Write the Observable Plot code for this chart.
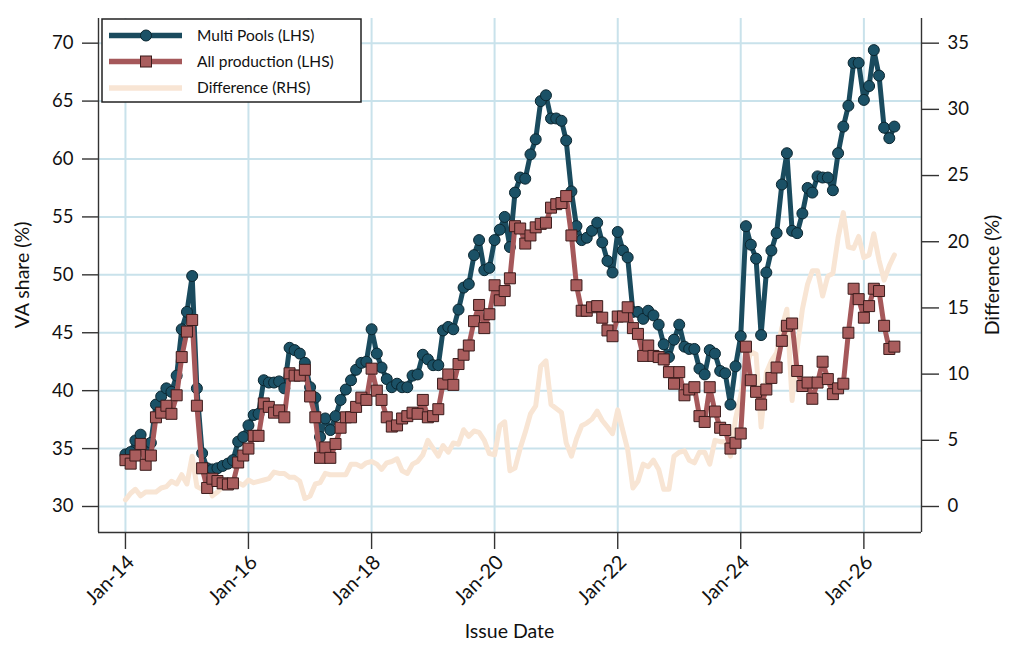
<!DOCTYPE html>
<html><head><meta charset="utf-8">
<script src="https://cdn.jsdelivr.net/npm/d3@7"></script>
<script src="https://cdn.jsdelivr.net/npm/@observablehq/plot@0.6"></script>
<style>
body{margin:0;background:#fff;font-family:Lato,"Open Sans",sans-serif;}
#wrap{position:relative;width:1024px;height:662px;overflow:hidden;}
.lab{position:absolute;font-size:19.5px;color:#111;white-space:nowrap;line-height:1;}
</style></head><body><div id="wrap"></div>
<script>
// ---- data (monthly issue dates from Jan-2014) ----
const startYear = 2014;
const multiPools = [
34.5,34.7,35.7,36.2,34.7,35.5,38.8,39.5,40.2,39.9,41.3,45.3,46.8,49.9,40.2,34.6,33.3,33.2,33.3,33.5,33.7,34.0,35.6,36.0,
37.0,37.9,38.0,40.9,40.7,40.7,40.8,40.2,43.7,43.5,43.2,42.4,40.3,39.4,36.0,37.6,36.6,37.8,39.2,40.1,40.9,41.8,42.4,42.5,
45.3,43.2,42.0,41.0,40.3,40.6,40.3,40.3,41.3,41.4,43.1,42.7,42.2,42.2,45.2,45.5,45.3,47.0,48.9,49.2,51.7,53.0,50.4,50.6,
53.0,53.9,55.0,52.4,57.1,58.4,58.3,60.4,61.7,65.0,65.5,63.5,63.5,63.3,61.6,57.2,54.2,53.0,53.2,53.8,54.5,52.8,51.2,50.2,
53.7,52.1,51.5,46.8,46.8,46.2,46.9,46.5,45.7,44.0,42.9,44.4,45.7,43.8,43.6,43.6,41.9,41.4,43.5,43.2,41.7,41.5,38.8,42.1,
44.7,54.2,52.6,51.4,44.8,50.2,52.1,53.6,57.8,60.5,53.8,53.6,55.3,57.5,57.1,58.5,58.4,58.4,57.3,60.5,62.8,64.6,68.3,68.3,
65.1,66.3,69.4,67.2,62.7,61.8,62.8
];
const allProduction = [
34.0,33.7,34.4,35.4,33.6,34.4,37.7,38.1,38.7,38.0,39.6,42.9,45.1,46.1,38.7,33.3,31.6,32.4,32.2,32.0,31.9,32.0,33.8,34.4,
35.0,36.1,36.1,38.9,38.6,38.1,38.3,37.7,41.5,41.3,41.3,41.8,39.5,37.7,34.2,35.1,34.2,35.4,36.8,37.7,37.7,38.6,39.4,39.2,
41.9,40.0,39.2,37.7,36.9,37.0,37.6,37.8,38.1,38.0,39.2,37.7,37.8,38.4,40.6,41.4,40.5,42.3,43.1,43.9,46.0,47.4,45.4,46.6,
49.1,47.8,48.6,49.7,54.2,54.0,52.7,53.4,54.1,54.4,54.5,55.8,56.1,56.2,56.8,53.4,49.1,46.9,46.9,47.2,47.3,46.3,45.2,44.7,
46.4,46.4,47.2,45.4,44.9,43.0,43.9,43.0,42.9,42.7,41.6,40.6,41.6,39.6,40.1,40.3,37.8,37.3,40.3,38.2,36.8,36.6,35.0,35.5,
36.3,43.8,40.9,39.9,38.8,40.1,41.1,42.0,44.3,45.6,45.8,41.7,40.4,40.7,39.3,40.7,42.5,41.0,39.7,40.2,40.6,45.0,48.8,47.9,
46.3,47.3,48.8,48.6,45.6,43.6,43.8
];
const difference = [
0.5,1.0,1.3,0.8,1.1,1.1,1.1,1.4,1.5,1.9,1.7,2.4,1.7,3.8,1.5,1.3,1.7,0.8,1.1,1.5,1.8,2.0,1.8,1.6,
2.0,1.8,1.9,2.0,2.1,2.6,2.5,2.5,2.2,2.2,1.9,0.6,0.8,1.7,1.8,2.5,2.4,2.4,2.4,2.4,3.2,3.2,3.0,3.3,
3.4,3.2,2.8,3.3,3.4,3.6,2.7,2.5,3.2,3.4,3.9,5.0,4.4,3.8,4.6,4.1,4.8,4.7,5.8,5.3,5.7,5.6,5.0,4.0,
3.9,6.1,6.4,2.7,2.9,4.4,5.6,7.0,7.6,10.6,11.0,7.7,7.4,7.1,4.8,3.8,5.1,6.1,6.3,6.6,7.2,6.5,6.0,5.5,
7.3,5.7,4.3,1.4,1.9,3.2,3.0,3.5,2.8,1.3,1.3,3.8,4.1,4.2,3.5,3.3,4.1,4.1,3.2,5.0,4.9,4.9,3.8,6.6,
8.4,10.4,11.7,11.5,6.0,10.1,11.0,11.6,13.5,14.9,8.0,11.9,14.9,16.8,17.8,17.8,15.9,17.4,17.6,20.3,22.2,19.6,19.5,20.4,
18.8,19.0,20.6,18.6,17.1,18.2,19.0
];
const xTickYears = [2014,2016,2018,2020,2022,2024,2026];
const leftTicks = [30,35,40,45,50,55,60,65,70];
const rightTicks = [0,5,10,15,20,25,30,35];
const seriesNames = ["Multi Pools (LHS)","All production (LHS)","Difference (RHS)"];
const axisTitles = {left:"VA share (%)", right:"Difference (%)", bottom:"Issue Date"};

// ---- styles ----
const C = {
  multiLine:"#1a4b5e", multiFill:"#1b5166", multiStroke:"#0b2630",
  allLine:"#a5585a", allFill:"#a95d5d", allStroke:"#3a1b1b",
  diff:"#f8e5d4", grid:"#c9e2eb", axis:"#333", text:"#111"
};

const dates = multiPools.map((_, i) => new Date(Date.UTC(startYear, i, 1)));
const rows = dates.map((date, i) => ({date, multi: multiPools[i], all: allProduction[i], diff: difference[i]}));
const toLeft = d => 30 + d * 40 / 35;           // RHS value -> LHS scale
const fromLeft = v => (v - 30) * 35 / 40;
const xTicks = xTickYears.map(y => new Date(Date.UTC(y, 0, 1)));
const xDomain = [new Date(Date.UTC(2013, 6, 25)), new Date(Date.UTC(2026, 11, 9))];
const yDomain = [27.755, 72.13];
const fmt = d3.utcFormat("%b-%y");

const chart = Plot.plot({
  width: 1024, height: 662,
  marginLeft: 98, marginRight: 103, marginTop: 18, marginBottom: 130,
  style: {fontFamily: "Lato, 'Open Sans', sans-serif", fontSize: "18px", color: C.text, background: "#fff"},
  x: {type: "utc", domain: xDomain},
  y: {domain: yDomain},
  marks: [
    Plot.gridX(xTicks, {stroke: C.grid, strokeOpacity: 1, strokeWidth: 2}),
    Plot.gridY(leftTicks, {stroke: C.grid, strokeOpacity: 1, strokeWidth: 2}),
    Plot.ruleX([xDomain[0], xDomain[1]], {stroke: C.axis, strokeWidth: 1.4}),
    Plot.ruleY([yDomain[0]], {stroke: C.axis, strokeWidth: 1.4}),
    Plot.axisY(leftTicks, {anchor: "left", tickSize: 16, tickPadding: 9, fontSize: 18.5, stroke: C.axis, strokeWidth: 1.4, label: null}),
    Plot.axisY(rightTicks.map(toLeft), {anchor: "right", tickSize: 17, tickPadding: 9, fontSize: 18.5, stroke: C.axis, strokeWidth: 1.4,
      tickFormat: v => String(Math.round(fromLeft(v))), label: null}),
    Plot.axisX(xTicks, {anchor: "bottom", tickSize: 17, tickFormat: () => "", stroke: C.axis, strokeWidth: 1.4, label: null}),
    Plot.text(xTicks, {x: d => d, frameAnchor: "bottom", text: d => fmt(d), rotate: -45, textAnchor: "end",
      dx: 10, dy: 31, fontSize: 20, fill: C.text}),
    // Difference (RHS)
    Plot.line(rows, {x: "date", y: d => toLeft(d.diff), stroke: C.diff, strokeWidth: 5, strokeLinejoin: "round", strokeLinecap: "round"}),
    // Multi Pools
    Plot.line(rows, {x: "date", y: "multi", stroke: C.multiLine, strokeWidth: 5, strokeLinejoin: "round"}),
    Plot.dot(rows, {x: "date", y: "multi", r: 5.5, fill: C.multiFill, stroke: C.multiStroke, strokeWidth: 1}),
    // All production
    Plot.line(rows, {x: "date", y: "all", stroke: C.allLine, strokeWidth: 5, strokeLinejoin: "round"}),
    Plot.dot(rows, {x: "date", y: "all", symbol: "square", r: 6.2, fill: C.allFill, stroke: C.allStroke, strokeWidth: 1})
  ]
});

const wrap = document.getElementById("wrap");
wrap.appendChild(chart);

// axis titles
function addLabel(text, css) {
  const d = document.createElement("div");
  d.className = "lab"; d.textContent = text;
  Object.assign(d.style, css);
  wrap.appendChild(d);
}
addLabel(axisTitles.bottom, {left: "509.5px", top: "621px", transform: "translateX(-50%)"});
addLabel(axisTitles.left, {left: "22px", top: "275px", transform: "translate(-50%,-50%) rotate(-90deg)"});
addLabel(axisTitles.right, {left: "992px", top: "275px", transform: "translate(-50%,-50%) rotate(-90deg)"});

// legend
const leg = d3.create("svg").attr("width", 262).attr("height", 86)
  .style("position", "absolute").style("left", "101px").style("top", "18px");
leg.append("rect").attr("x", 1).attr("y", 1).attr("width", 259).attr("height", 83)
  .attr("fill", "#fff").attr("stroke", "#222").attr("stroke-width", 1.5);
const rowY = [17.5, 43.5, 70];
const styles = [
  {line: C.multiLine, mark: "circle"},
  {line: C.allLine, mark: "square"},
  {line: C.diff, mark: null}
];
styles.forEach((s, i) => {
  const y = rowY[i];
  leg.append("line").attr("x1", 8).attr("x2", 81).attr("y1", y).attr("y2", y)
    .attr("stroke", s.line).attr("stroke-width", 5.5);
  if (s.mark === "circle") leg.append("circle").attr("cx", 45).attr("cy", y).attr("r", 5.5)
    .attr("fill", C.multiFill).attr("stroke", C.multiStroke);
  if (s.mark === "square") leg.append("rect").attr("x", 45 - 5.5).attr("y", y - 5.5).attr("width", 11).attr("height", 11)
    .attr("fill", C.allFill).attr("stroke", C.allStroke);
  leg.append("text").attr("x", 96).attr("y", y).attr("dy", "0.35em")
    .attr("font-size", 15.5).attr("font-family", "Lato, 'Open Sans', sans-serif").attr("fill", C.text)
    .text(seriesNames[i]);
});
wrap.appendChild(leg.node());
</script>
</body></html>
